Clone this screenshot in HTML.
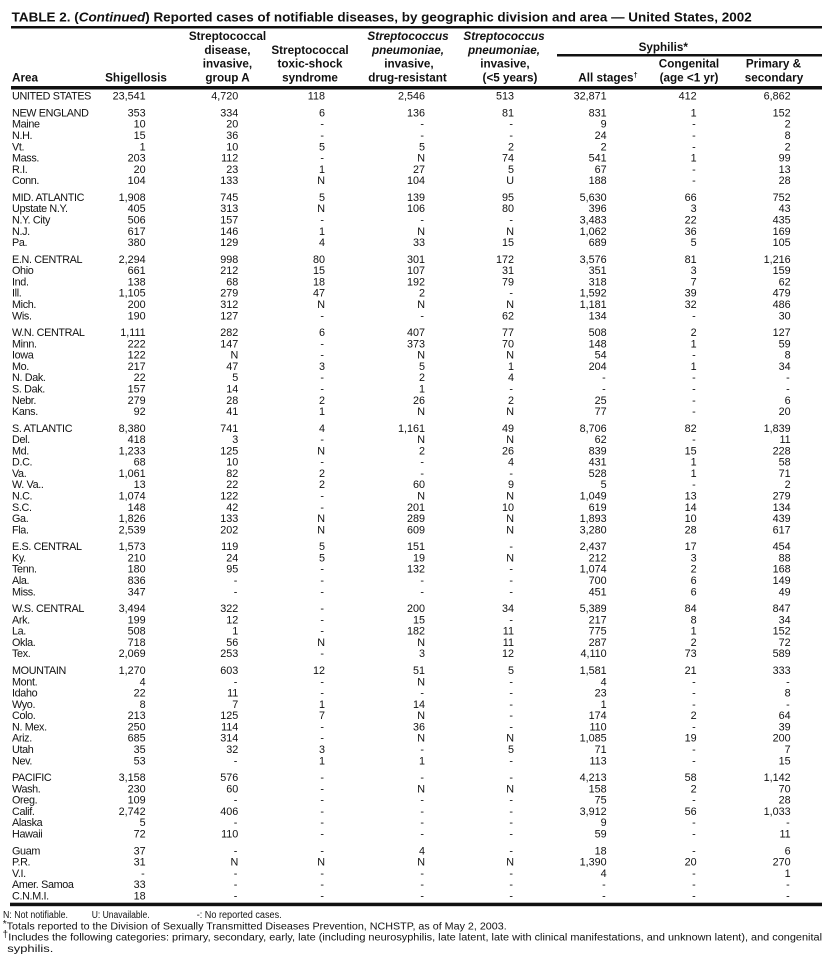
<!DOCTYPE html>
<html><head><meta charset="utf-8"><style>
html,body{margin:0;padding:0;background:#fff;}
svg{display:block;}
text{font-family:"Liberation Sans",Arial,sans-serif;font-size:10.8px;fill:#111;}
.d text{text-anchor:end;}
.d text.a{text-anchor:start;letter-spacing:-0.35px;}
.h{font-weight:bold;font-size:11.7px;text-anchor:middle;}
.hi{font-weight:bold;font-size:11.7px;font-style:italic;text-anchor:middle;}
.t{font-weight:bold;font-size:12.5px;}
.f{font-size:10px;}
</style></head><body>
<svg width="835" height="966" viewBox="0 0 835 966" xmlns="http://www.w3.org/2000/svg">
<rect width="835" height="966" fill="#fff"/>
<text class="t" x="11.7" y="21.7" textLength="740" lengthAdjust="spacingAndGlyphs">TABLE 2. (<tspan font-style="italic">Continued</tspan>) Reported cases of notifiable diseases, by geographic division and area — United States, 2002</text>
<rect x="11" y="26" width="811" height="2.5" fill="#111"/>

<text class="h" x="227.5" y="40">Streptococcal</text>
<text class="h" x="227.5" y="54">disease,</text>
<text class="h" x="227.5" y="67.7">invasive,</text>
<text class="h" x="227.5" y="81.7">group A</text>
<text class="h" x="310" y="54">Streptococcal</text>
<text class="h" x="310" y="67.7">toxic-shock</text>
<text class="h" x="310" y="81.7">syndrome</text>
<text class="hi" x="408" y="40">Streptococcus</text>
<text class="hi" x="408" y="54">pneumoniae,</text>
<text class="h" x="409" y="67.7">invasive,</text>
<text class="h" x="407.5" y="81.7">drug-resistant</text>
<text class="hi" x="504" y="40">Streptococcus</text>
<text class="hi" x="504" y="54">pneumoniae,</text>
<text class="h" x="505" y="67.7">invasive,</text>
<text class="h" x="510" y="81.7">(&lt;5 years)</text>
<text class="h" x="663.3" y="51">Syphilis*</text>
<rect x="557" y="54" width="265" height="2.5" fill="#111"/>
<text class="h" x="608" y="81.7">All stages<tspan font-size="7.5px" dy="-4">†</tspan></text>
<text class="h" x="689" y="67.7">Congenital</text>
<text class="h" x="689" y="81.7">(age &lt;1 yr)</text>
<text class="h" x="773.5" y="67.7">Primary &amp;</text>
<text class="h" x="774" y="81.7">secondary</text>
<text class="h" x="12" y="81.7" style="text-anchor:start">Area</text>
<text class="h" x="136" y="81.7">Shigellosis</text>
<rect x="11" y="86" width="811" height="3.5" fill="#111"/>

<g class="d">
<g transform="translate(0,99.6)"><text class="a" x="12">UNITED STATES</text><text x="145.7">23,541</text><text x="238.3">4,720</text><text x="325">118</text><text x="425">2,546</text><text x="514">513</text><text x="606.7">32,871</text><text x="696.7">412</text><text x="790.7">6,862</text></g>

<g transform="translate(0,116.5)"><text class="a" x="12">NEW ENGLAND</text><text x="145.7">353</text><text x="238.3">334</text><text x="325">6</text><text x="425">136</text><text x="514">81</text><text x="606.7">831</text><text x="696.7">1</text><text x="790.7">152</text></g>
<g transform="translate(0,127.7)"><text class="a" x="12">Maine</text><text x="145.7">10</text><text x="238.3">20</text><text x="324">-</text><text x="424">-</text><text x="513">-</text><text x="606.7">9</text><text x="695.7">-</text><text x="790.7">2</text></g>
<g transform="translate(0,139)"><text class="a" x="12">N.H.</text><text x="145.7">15</text><text x="238.3">36</text><text x="324">-</text><text x="424">-</text><text x="513">-</text><text x="606.7">24</text><text x="695.7">-</text><text x="790.7">8</text></g>
<g transform="translate(0,150.3)"><text class="a" x="12">Vt.</text><text x="145.7">1</text><text x="238.3">10</text><text x="325">5</text><text x="425">5</text><text x="514">2</text><text x="606.7">2</text><text x="695.7">-</text><text x="790.7">2</text></g>
<g transform="translate(0,161.5)"><text class="a" x="12">Mass.</text><text x="145.7">203</text><text x="238.3">112</text><text x="324">-</text><text x="425">N</text><text x="514">74</text><text x="606.7">541</text><text x="696.7">1</text><text x="790.7">99</text></g>
<g transform="translate(0,172.8)"><text class="a" x="12">R.I.</text><text x="145.7">20</text><text x="238.3">23</text><text x="325">1</text><text x="425">27</text><text x="514">5</text><text x="606.7">67</text><text x="695.7">-</text><text x="790.7">13</text></g>
<g transform="translate(0,184.1)"><text class="a" x="12">Conn.</text><text x="145.7">104</text><text x="238.3">133</text><text x="325">N</text><text x="425">104</text><text x="514">U</text><text x="606.7">188</text><text x="695.7">-</text><text x="790.7">28</text></g>

<g transform="translate(0,201)"><text class="a" x="12">MID. ATLANTIC</text><text x="145.7">1,908</text><text x="238.3">745</text><text x="325">5</text><text x="425">139</text><text x="514">95</text><text x="606.7">5,630</text><text x="696.7">66</text><text x="790.7">752</text></g>
<g transform="translate(0,212.2)"><text class="a" x="12">Upstate N.Y.</text><text x="145.7">405</text><text x="238.3">313</text><text x="325">N</text><text x="425">106</text><text x="514">80</text><text x="606.7">396</text><text x="696.7">3</text><text x="790.7">43</text></g>
<g transform="translate(0,223.5)"><text class="a" x="12">N.Y. City</text><text x="145.7">506</text><text x="238.3">157</text><text x="324">-</text><text x="424">-</text><text x="513">-</text><text x="606.7">3,483</text><text x="696.7">22</text><text x="790.7">435</text></g>
<g transform="translate(0,234.8)"><text class="a" x="12">N.J.</text><text x="145.7">617</text><text x="238.3">146</text><text x="325">1</text><text x="425">N</text><text x="514">N</text><text x="606.7">1,062</text><text x="696.7">36</text><text x="790.7">169</text></g>
<g transform="translate(0,246)"><text class="a" x="12">Pa.</text><text x="145.7">380</text><text x="238.3">129</text><text x="325">4</text><text x="425">33</text><text x="514">15</text><text x="606.7">689</text><text x="696.7">5</text><text x="790.7">105</text></g>

<g transform="translate(0,262.9)"><text class="a" x="12">E.N. CENTRAL</text><text x="145.7">2,294</text><text x="238.3">998</text><text x="325">80</text><text x="425">301</text><text x="514">172</text><text x="606.7">3,576</text><text x="696.7">81</text><text x="790.7">1,216</text></g>
<g transform="translate(0,274.2)"><text class="a" x="12">Ohio</text><text x="145.7">661</text><text x="238.3">212</text><text x="325">15</text><text x="425">107</text><text x="514">31</text><text x="606.7">351</text><text x="696.7">3</text><text x="790.7">159</text></g>
<g transform="translate(0,285.5)"><text class="a" x="12">Ind.</text><text x="145.7">138</text><text x="238.3">68</text><text x="325">18</text><text x="425">192</text><text x="514">79</text><text x="606.7">318</text><text x="696.7">7</text><text x="790.7">62</text></g>
<g transform="translate(0,296.7)"><text class="a" x="12">Ill.</text><text x="145.7">1,105</text><text x="238.3">279</text><text x="325">47</text><text x="425">2</text><text x="513">-</text><text x="606.7">1,592</text><text x="696.7">39</text><text x="790.7">479</text></g>
<g transform="translate(0,308)"><text class="a" x="12">Mich.</text><text x="145.7">200</text><text x="238.3">312</text><text x="325">N</text><text x="425">N</text><text x="514">N</text><text x="606.7">1,181</text><text x="696.7">32</text><text x="790.7">486</text></g>
<g transform="translate(0,319.3)"><text class="a" x="12">Wis.</text><text x="145.7">190</text><text x="238.3">127</text><text x="324">-</text><text x="424">-</text><text x="514">62</text><text x="606.7">134</text><text x="695.7">-</text><text x="790.7">30</text></g>

<g transform="translate(0,336.1)"><text class="a" x="12">W.N. CENTRAL</text><text x="145.7">1,111</text><text x="238.3">282</text><text x="325">6</text><text x="425">407</text><text x="514">77</text><text x="606.7">508</text><text x="696.7">2</text><text x="790.7">127</text></g>
<g transform="translate(0,347.4)"><text class="a" x="12">Minn.</text><text x="145.7">222</text><text x="238.3">147</text><text x="324">-</text><text x="425">373</text><text x="514">70</text><text x="606.7">148</text><text x="696.7">1</text><text x="790.7">59</text></g>
<g transform="translate(0,358.7)"><text class="a" x="12">Iowa</text><text x="145.7">122</text><text x="238.3">N</text><text x="324">-</text><text x="425">N</text><text x="514">N</text><text x="606.7">54</text><text x="695.7">-</text><text x="790.7">8</text></g>
<g transform="translate(0,369.9)"><text class="a" x="12">Mo.</text><text x="145.7">217</text><text x="238.3">47</text><text x="325">3</text><text x="425">5</text><text x="514">1</text><text x="606.7">204</text><text x="696.7">1</text><text x="790.7">34</text></g>
<g transform="translate(0,381.2)"><text class="a" x="12">N. Dak.</text><text x="145.7">22</text><text x="238.3">5</text><text x="324">-</text><text x="425">2</text><text x="514">4</text><text x="605.7">-</text><text x="695.7">-</text><text x="789.7">-</text></g>
<g transform="translate(0,392.5)"><text class="a" x="12">S. Dak.</text><text x="145.7">157</text><text x="238.3">14</text><text x="324">-</text><text x="425">1</text><text x="513">-</text><text x="605.7">-</text><text x="695.7">-</text><text x="789.7">-</text></g>
<g transform="translate(0,403.8)"><text class="a" x="12">Nebr.</text><text x="145.7">279</text><text x="238.3">28</text><text x="325">2</text><text x="425">26</text><text x="514">2</text><text x="606.7">25</text><text x="695.7">-</text><text x="790.7">6</text></g>
<g transform="translate(0,415)"><text class="a" x="12">Kans.</text><text x="145.7">92</text><text x="238.3">41</text><text x="325">1</text><text x="425">N</text><text x="514">N</text><text x="606.7">77</text><text x="695.7">-</text><text x="790.7">20</text></g>

<g transform="translate(0,431.9)"><text class="a" x="12">S. ATLANTIC</text><text x="145.7">8,380</text><text x="238.3">741</text><text x="325">4</text><text x="425">1,161</text><text x="514">49</text><text x="606.7">8,706</text><text x="696.7">82</text><text x="790.7">1,839</text></g>
<g transform="translate(0,443.2)"><text class="a" x="12">Del.</text><text x="145.7">418</text><text x="238.3">3</text><text x="324">-</text><text x="425">N</text><text x="514">N</text><text x="606.7">62</text><text x="695.7">-</text><text x="790.7">11</text></g>
<g transform="translate(0,454.4)"><text class="a" x="12">Md.</text><text x="145.7">1,233</text><text x="238.3">125</text><text x="325">N</text><text x="425">2</text><text x="514">26</text><text x="606.7">839</text><text x="696.7">15</text><text x="790.7">228</text></g>
<g transform="translate(0,465.7)"><text class="a" x="12">D.C.</text><text x="145.7">68</text><text x="238.3">10</text><text x="324">-</text><text x="424">-</text><text x="514">4</text><text x="606.7">431</text><text x="696.7">1</text><text x="790.7">58</text></g>
<g transform="translate(0,477)"><text class="a" x="12">Va.</text><text x="145.7">1,061</text><text x="238.3">82</text><text x="325">2</text><text x="424">-</text><text x="513">-</text><text x="606.7">528</text><text x="696.7">1</text><text x="790.7">71</text></g>
<g transform="translate(0,488.2)"><text class="a" x="12">W. Va..</text><text x="145.7">13</text><text x="238.3">22</text><text x="325">2</text><text x="425">60</text><text x="514">9</text><text x="606.7">5</text><text x="695.7">-</text><text x="790.7">2</text></g>
<g transform="translate(0,499.5)"><text class="a" x="12">N.C.</text><text x="145.7">1,074</text><text x="238.3">122</text><text x="324">-</text><text x="425">N</text><text x="514">N</text><text x="606.7">1,049</text><text x="696.7">13</text><text x="790.7">279</text></g>
<g transform="translate(0,510.8)"><text class="a" x="12">S.C.</text><text x="145.7">148</text><text x="238.3">42</text><text x="324">-</text><text x="425">201</text><text x="514">10</text><text x="606.7">619</text><text x="696.7">14</text><text x="790.7">134</text></g>
<g transform="translate(0,522.1)"><text class="a" x="12">Ga.</text><text x="145.7">1,826</text><text x="238.3">133</text><text x="325">N</text><text x="425">289</text><text x="514">N</text><text x="606.7">1,893</text><text x="696.7">10</text><text x="790.7">439</text></g>
<g transform="translate(0,533.3)"><text class="a" x="12">Fla.</text><text x="145.7">2,539</text><text x="238.3">202</text><text x="325">N</text><text x="425">609</text><text x="514">N</text><text x="606.7">3,280</text><text x="696.7">28</text><text x="790.7">617</text></g>

<g transform="translate(0,550.2)"><text class="a" x="12">E.S. CENTRAL</text><text x="145.7">1,573</text><text x="238.3">119</text><text x="325">5</text><text x="425">151</text><text x="513">-</text><text x="606.7">2,437</text><text x="696.7">17</text><text x="790.7">454</text></g>
<g transform="translate(0,561.5)"><text class="a" x="12">Ky.</text><text x="145.7">210</text><text x="238.3">24</text><text x="325">5</text><text x="425">19</text><text x="514">N</text><text x="606.7">212</text><text x="696.7">3</text><text x="790.7">88</text></g>
<g transform="translate(0,572.7)"><text class="a" x="12">Tenn.</text><text x="145.7">180</text><text x="238.3">95</text><text x="324">-</text><text x="425">132</text><text x="513">-</text><text x="606.7">1,074</text><text x="696.7">2</text><text x="790.7">168</text></g>
<g transform="translate(0,584)"><text class="a" x="12">Ala.</text><text x="145.7">836</text><text x="237.3">-</text><text x="324">-</text><text x="424">-</text><text x="513">-</text><text x="606.7">700</text><text x="696.7">6</text><text x="790.7">149</text></g>
<g transform="translate(0,595.3)"><text class="a" x="12">Miss.</text><text x="145.7">347</text><text x="237.3">-</text><text x="324">-</text><text x="424">-</text><text x="513">-</text><text x="606.7">451</text><text x="696.7">6</text><text x="790.7">49</text></g>

<g transform="translate(0,612.1)"><text class="a" x="12">W.S. CENTRAL</text><text x="145.7">3,494</text><text x="238.3">322</text><text x="324">-</text><text x="425">200</text><text x="514">34</text><text x="606.7">5,389</text><text x="696.7">84</text><text x="790.7">847</text></g>
<g transform="translate(0,623.4)"><text class="a" x="12">Ark.</text><text x="145.7">199</text><text x="238.3">12</text><text x="324">-</text><text x="425">15</text><text x="513">-</text><text x="606.7">217</text><text x="696.7">8</text><text x="790.7">34</text></g>
<g transform="translate(0,634.7)"><text class="a" x="12">La.</text><text x="145.7">508</text><text x="238.3">1</text><text x="324">-</text><text x="425">182</text><text x="514">11</text><text x="606.7">775</text><text x="696.7">1</text><text x="790.7">152</text></g>
<g transform="translate(0,646)"><text class="a" x="12">Okla.</text><text x="145.7">718</text><text x="238.3">56</text><text x="325">N</text><text x="425">N</text><text x="514">11</text><text x="606.7">287</text><text x="696.7">2</text><text x="790.7">72</text></g>
<g transform="translate(0,657.2)"><text class="a" x="12">Tex.</text><text x="145.7">2,069</text><text x="238.3">253</text><text x="324">-</text><text x="425">3</text><text x="514">12</text><text x="606.7">4,110</text><text x="696.7">73</text><text x="790.7">589</text></g>

<g transform="translate(0,674.1)"><text class="a" x="12">MOUNTAIN</text><text x="145.7">1,270</text><text x="238.3">603</text><text x="325">12</text><text x="425">51</text><text x="514">5</text><text x="606.7">1,581</text><text x="696.7">21</text><text x="790.7">333</text></g>
<g transform="translate(0,685.4)"><text class="a" x="12">Mont.</text><text x="145.7">4</text><text x="237.3">-</text><text x="324">-</text><text x="425">N</text><text x="513">-</text><text x="606.7">4</text><text x="695.7">-</text><text x="789.7">-</text></g>
<g transform="translate(0,696.6)"><text class="a" x="12">Idaho</text><text x="145.7">22</text><text x="238.3">11</text><text x="324">-</text><text x="424">-</text><text x="513">-</text><text x="606.7">23</text><text x="695.7">-</text><text x="790.7">8</text></g>
<g transform="translate(0,707.9)"><text class="a" x="12">Wyo.</text><text x="145.7">8</text><text x="238.3">7</text><text x="325">1</text><text x="425">14</text><text x="513">-</text><text x="606.7">1</text><text x="695.7">-</text><text x="789.7">-</text></g>
<g transform="translate(0,719.2)"><text class="a" x="12">Colo.</text><text x="145.7">213</text><text x="238.3">125</text><text x="325">7</text><text x="425">N</text><text x="513">-</text><text x="606.7">174</text><text x="696.7">2</text><text x="790.7">64</text></g>
<g transform="translate(0,730.4)"><text class="a" x="12">N. Mex.</text><text x="145.7">250</text><text x="238.3">114</text><text x="324">-</text><text x="425">36</text><text x="513">-</text><text x="606.7">110</text><text x="695.7">-</text><text x="790.7">39</text></g>
<g transform="translate(0,741.7)"><text class="a" x="12">Ariz.</text><text x="145.7">685</text><text x="238.3">314</text><text x="324">-</text><text x="425">N</text><text x="514">N</text><text x="606.7">1,085</text><text x="696.7">19</text><text x="790.7">200</text></g>
<g transform="translate(0,753)"><text class="a" x="12">Utah</text><text x="145.7">35</text><text x="238.3">32</text><text x="325">3</text><text x="424">-</text><text x="514">5</text><text x="606.7">71</text><text x="695.7">-</text><text x="790.7">7</text></g>
<g transform="translate(0,764.3)"><text class="a" x="12">Nev.</text><text x="145.7">53</text><text x="237.3">-</text><text x="325">1</text><text x="425">1</text><text x="513">-</text><text x="606.7">113</text><text x="695.7">-</text><text x="790.7">15</text></g>

<g transform="translate(0,781.1)"><text class="a" x="12">PACIFIC</text><text x="145.7">3,158</text><text x="238.3">576</text><text x="324">-</text><text x="424">-</text><text x="513">-</text><text x="606.7">4,213</text><text x="696.7">58</text><text x="790.7">1,142</text></g>
<g transform="translate(0,792.4)"><text class="a" x="12">Wash.</text><text x="145.7">230</text><text x="238.3">60</text><text x="324">-</text><text x="425">N</text><text x="514">N</text><text x="606.7">158</text><text x="696.7">2</text><text x="790.7">70</text></g>
<g transform="translate(0,803.7)"><text class="a" x="12">Oreg.</text><text x="145.7">109</text><text x="237.3">-</text><text x="324">-</text><text x="424">-</text><text x="513">-</text><text x="606.7">75</text><text x="695.7">-</text><text x="790.7">28</text></g>
<g transform="translate(0,814.9)"><text class="a" x="12">Calif.</text><text x="145.7">2,742</text><text x="238.3">406</text><text x="324">-</text><text x="424">-</text><text x="513">-</text><text x="606.7">3,912</text><text x="696.7">56</text><text x="790.7">1,033</text></g>
<g transform="translate(0,826.2)"><text class="a" x="12">Alaska</text><text x="145.7">5</text><text x="237.3">-</text><text x="324">-</text><text x="424">-</text><text x="513">-</text><text x="606.7">9</text><text x="695.7">-</text><text x="789.7">-</text></g>
<g transform="translate(0,837.5)"><text class="a" x="12">Hawaii</text><text x="145.7">72</text><text x="238.3">110</text><text x="324">-</text><text x="424">-</text><text x="513">-</text><text x="606.7">59</text><text x="695.7">-</text><text x="790.7">11</text></g>

<g transform="translate(0,854.3)"><text class="a" x="12">Guam</text><text x="145.7">37</text><text x="237.3">-</text><text x="324">-</text><text x="425">4</text><text x="513">-</text><text x="606.7">18</text><text x="695.7">-</text><text x="790.7">6</text></g>
<g transform="translate(0,865.6)"><text class="a" x="12">P.R.</text><text x="145.7">31</text><text x="238.3">N</text><text x="325">N</text><text x="425">N</text><text x="514">N</text><text x="606.7">1,390</text><text x="696.7">20</text><text x="790.7">270</text></g>
<g transform="translate(0,876.9)"><text class="a" x="12">V.I.</text><text x="144.7">-</text><text x="237.3">-</text><text x="324">-</text><text x="424">-</text><text x="513">-</text><text x="606.7">4</text><text x="695.7">-</text><text x="790.7">1</text></g>
<g transform="translate(0,888.2)"><text class="a" x="12">Amer. Samoa</text><text x="145.7">33</text><text x="237.3">-</text><text x="324">-</text><text x="424">-</text><text x="513">-</text><text x="605.7">-</text><text x="695.7">-</text><text x="789.7">-</text></g>
<g transform="translate(0,899.4)"><text class="a" x="12">C.N.M.I.</text><text x="145.7">18</text><text x="237.3">-</text><text x="324">-</text><text x="424">-</text><text x="513">-</text><text x="605.7">-</text><text x="695.7">-</text><text x="789.7">-</text></g>
</g>

<rect x="10" y="902.7" width="812" height="3.5" fill="#111"/>

<text class="f" x="3" y="918.2" textLength="65" lengthAdjust="spacingAndGlyphs">N: Not notifiable.</text>
<text class="f" x="91.7" y="918.2" textLength="58" lengthAdjust="spacingAndGlyphs">U: Unavailable.</text>
<text class="f" x="196.7" y="918.2" textLength="85" lengthAdjust="spacingAndGlyphs">-: No reported cases.</text>
<text class="f" x="2.7" y="927" font-size="8px">*</text>
<text class="f" x="6.7" y="929.4" textLength="500" lengthAdjust="spacingAndGlyphs">Totals reported to the Division of Sexually Transmitted Diseases Prevention, NCHSTP, as of May 2, 2003.</text>
<text class="f" x="2.5" y="937.5" font-size="9px">†</text>
<text class="f" x="8.3" y="940.6" textLength="813.7" lengthAdjust="spacingAndGlyphs">Includes the following categories: primary, secondary, early, late (including neurosyphilis, late latent, late with clinical manifestations, and unknown latent), and congenital</text>
<text class="f" x="7.3" y="951.8" textLength="46" lengthAdjust="spacingAndGlyphs">syphilis.</text>
</svg>
</body></html>
